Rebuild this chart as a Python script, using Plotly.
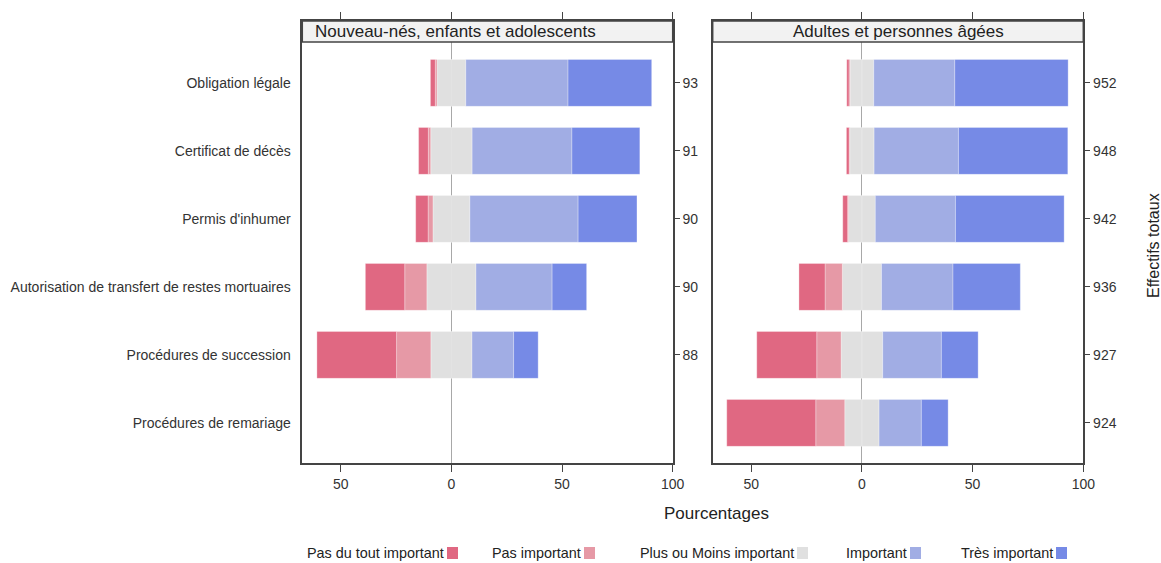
import plotly.graph_objects as go

W, H = 1161, 563

categories = [
    "Obligation légale",
    "Certificat de décès",
    "Permis d'inhumer",
    "Autorisation de transfert de restes mortuaires",
    "Procédures de succession",
    "Procédures de remariage",
]
levels = ["Pas du tout important", "Pas important", "Plus ou Moins important",
          "Important", "Très important"]
level_colors = ["#E06882", "#E699A6", "#E0E0E0", "#A1ADE4", "#768AE6"]
panel_titles = ["Nouveau-nés, enfants et adolescents", "Adultes et personnes âgées"]

# Nouveau-nés, enfants et adolescents (percentages)
young_pas_du_tout = [2.2, 4.4, 5.6, 17.8, 36.0, None]
young_pas_important = [0.8, 1.1, 2.2, 10.0, 15.5, None]
young_neutre = [13.0, 18.7, 16.7, 22.2, 18.6, None]
young_important = [46.2, 45.1, 48.9, 34.4, 18.8, None]
young_tres_important = [37.8, 30.7, 26.6, 15.6, 11.1, None]
young_totals = [93, 91, 90, 90, 88, None]

# Adultes et personnes âgées (percentages)
adult_pas_du_tout = [1.0, 1.2, 2.2, 11.8, 27.1, 40.2]
adult_pas_important = [0.5, 0.3, 0.4, 7.8, 11.0, 13.1]
adult_neutre = [10.7, 11.0, 12.1, 17.7, 18.8, 15.5]
adult_important = [36.6, 38.1, 36.2, 32.3, 26.5, 19.1]
adult_tres_important = [51.2, 49.4, 49.1, 30.4, 16.6, 12.1]
adult_totals = [952, 948, 942, 936, 927, 924]

x_tickvals = [-50, 0, 50, 100]
x_ticktext = ["50", "0", "50", "100"]

FONT = "Liberation Sans, Arial, sans-serif"
TXT = "#333333"
FRAME = "#444444"


def px(x):
    return x / W


def py(y):
    return 1 - y / H


def neg(arr):
    return [None if v is None else -v for v in arr]


def half(arr):
    return [None if v is None else v / 2 for v in arr]


fig = go.Figure()


def add_panel(xa, ya, red, pink, neutral, imp, tres):
    # relative stacking: negatives grow left from 0, positives grow right
    series = [
        (neg(half(neutral)), level_colors[2]),
        (half(neutral), level_colors[2]),
        (neg(pink), level_colors[1]),
        (imp, level_colors[3]),
        (neg(red), level_colors[0]),
        (tres, level_colors[4]),
    ]
    for vals, col in series:
        fig.add_trace(go.Bar(
            x=vals, y=categories, orientation="h", xaxis=xa, yaxis=ya,
            marker=dict(color=col, line=dict(width=0.6, color="rgba(255,255,255,0.5)")),
            width=0.69, showlegend=False, hoverinfo="x+y",
        ))


add_panel("x", "y", young_pas_du_tout, young_pas_important, young_neutre,
          young_important, young_tres_important)
add_panel("x2", "y2", adult_pas_du_tout, adult_pas_important, adult_neutre,
          adult_important, adult_tres_important)

# empty traces so the right-hand count axes get drawn
for xa, ya in [("x", "y3"), ("x2", "y4")]:
    fig.add_trace(go.Scatter(x=[], y=[], xaxis=xa, yaxis=ya, mode="markers",
                             showlegend=False, hoverinfo="skip"))

top_px, bot_px = 21, 463
plot_h = bot_px - top_px
strip_h = 21
y_range = [5.59, -0.91]
y_domain = [py(bot_px), py(top_px)]
x1_domain = [px(302.3), px(672.7)]
x2_domain = [px(712.7), px(1083.3)]

xcommon = dict(
    range=[-67.4, 100], tickmode="array", tickvals=x_tickvals, ticktext=x_ticktext,
    ticks="outside", ticklen=7, tickwidth=1, tickcolor=FRAME,
    showline=True, linecolor=FRAME, linewidth=1.5, mirror="ticks",
    showgrid=False, zeroline=True, zerolinecolor="#A8A8A8", zerolinewidth=1,
    tickfont=dict(family=FONT, size=14, color=TXT), fixedrange=True,
    automargin=False,
)
ycommon = dict(
    type="category", categoryorder="array", categoryarray=categories,
    range=y_range, domain=y_domain, showline=True, linecolor=FRAME, linewidth=1.5,
    mirror=True, ticks="", showgrid=False, zeroline=False, fixedrange=True,
    tickfont=dict(family=FONT, size=14, color=TXT), automargin=False,
)
count_axis = dict(
    range=y_range, domain=y_domain, side="right", tickmode="array",
    ticks="outside", ticklen=6, tickwidth=1, tickcolor=FRAME,
    showline=False, showgrid=False, zeroline=False, fixedrange=True,
    tickfont=dict(family=FONT, size=14, color=TXT), automargin=False,
)

young_idx = [i for i, v in enumerate(young_totals) if v is not None]
adult_idx = [i for i, v in enumerate(adult_totals) if v is not None]

fig.update_layout(
    width=W, height=H, autosize=False,
    margin=dict(l=0, r=0, t=0, b=0, pad=0, autoexpand=False),
    paper_bgcolor="white", plot_bgcolor="white",
    barmode="relative",
    xaxis=dict(domain=x1_domain, anchor="y", **xcommon),
    xaxis2=dict(domain=x2_domain, anchor="y2", **xcommon),
    yaxis=dict(anchor="x", showticklabels=True, ticklabelstandoff=7, **ycommon),
    yaxis2=dict(anchor="x2", showticklabels=False, **ycommon),
    yaxis3=dict(overlaying="y", anchor="x", tickvals=young_idx,
                ticktext=[str(young_totals[i]) for i in young_idx], **count_axis),
    yaxis4=dict(overlaying="y2", anchor="x2", tickvals=adult_idx,
                ticktext=[str(adult_totals[i]) for i in adult_idx], **count_axis),
)

# strips with panel titles
title_x = [px(455), px(898)]
for k, (xr, yr) in enumerate([("x domain", "y domain"), ("x2 domain", "y2 domain")]):
    fig.add_shape(type="rect", xref=xr, yref=yr, x0=0, x1=1,
                  y0=1 - strip_h / plot_h, y1=1, fillcolor="#F2F2F2",
                  line=dict(color=FRAME, width=1.5), layer="above")
    fig.add_annotation(text=panel_titles[k], xref="paper", yref="paper",
                       x=title_x[k], y=py(top_px + strip_h / 2), showarrow=False,
                       xanchor="center", yanchor="middle",
                       font=dict(family=FONT, size=17, color="#222222"))

fig.add_annotation(text="Pourcentages", xref="paper", yref="paper",
                   x=px(716), y=py(513), showarrow=False,
                   xanchor="center", yanchor="middle",
                   font=dict(family=FONT, size=17, color="#222222"))
fig.add_annotation(text="Effectifs totaux", xref="paper", yref="paper",
                   x=px(1154), y=py(246), showarrow=False, textangle=-90,
                   xanchor="center", yanchor="middle",
                   font=dict(family=FONT, size=16, color="#222222"))

# legend: label followed by its colour key
legend_key_left = [447, 584, 797, 910, 1056]
for lbl, col, kx in zip(levels, level_colors, legend_key_left):
    fig.add_annotation(text=lbl, xref="paper", yref="paper", x=px(kx - 1),
                       y=py(553), xanchor="right", yanchor="middle", showarrow=False,
                       font=dict(family=FONT, size=14.4, color="#222222"))
    fig.add_shape(type="rect", xref="paper", yref="paper",
                  x0=px(kx), x1=px(kx + 11), y0=py(559), y1=py(547),
                  fillcolor=col, line=dict(width=0))

fig.write_html("out.html")
